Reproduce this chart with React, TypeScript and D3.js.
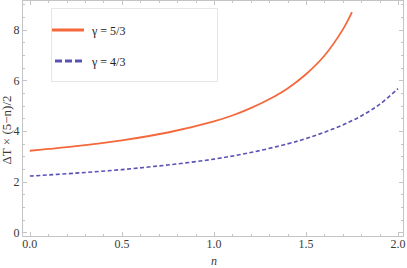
import React, { useEffect, useRef } from 'react';
import * as d3 from 'd3';

// values
const nOrange = [0, 0.1, 0.25, 0.5, 0.75, 1.0, 1.1, 1.2, 1.3, 1.4, 1.5, 1.6, 1.7, 1.75];
const vOrange = [3.22, 3.29, 3.4, 3.63, 3.94, 4.38, 4.61, 4.9, 5.25, 5.68, 6.24, 6.97, 8.0, 8.69];
const nBlue = [0, 0.25, 0.5, 0.75, 1.0, 1.2, 1.4, 1.5, 1.6, 1.7, 1.8, 1.9, 2.0];
const vBlue = [2.22, 2.335, 2.476, 2.66, 2.89, 3.15, 3.49, 3.7, 3.95, 4.24, 4.59, 5.05, 5.67];
const xTicks = [0, 0.5, 1.0, 1.5, 2.0];
const yTicks = [0, 2, 4, 6, 8];
const legendLabels = ['γ = 5/3', 'γ = 4/3'];

const W = 407;
const H = 268;

const App: React.FC = () => {
  const svgRef = useRef<SVGSVGElement>(null);

  useEffect(() => {
    document.body.style.margin = '0';
    if (!svgRef.current) return;
    const svg = d3.select(svgRef.current);
    svg.selectAll('*').remove();

    const frame = { left: 22.5, right: 403.5, top: 0.5, bottom: 236.5 };
    const x = d3.scaleLinear().domain([-0.04, 2.03]).range([frame.left, frame.right]);
    const y = d3.scaleLinear().domain([-0.165, 9.15]).range([frame.bottom, frame.top]);

    const frameColor = '#c4c4c4';
    const textColor = '#3a3a3a';
    const font = "'Liberation Serif', 'DejaVu Serif', 'Times New Roman', serif";

    const g = svg.append('g');

    // frame
    g.append('rect')
      .attr('x', frame.left).attr('y', frame.top)
      .attr('width', frame.right - frame.left)
      .attr('height', frame.bottom - frame.top)
      .attr('fill', 'none').attr('stroke', frameColor).attr('stroke-width', 1);

    // x ticks (major + minor) on bottom and top
    const xMinor = d3.range(0, 2.001, 0.1);
    xMinor.forEach(v => {
      const major = xTicks.some(t => Math.abs(t - v) < 1e-6);
      const len = major ? 4.5 : 2.5;
      const px = Math.round(x(v)) + 0.5;
      g.append('line').attr('x1', px).attr('x2', px)
        .attr('y1', frame.bottom).attr('y2', frame.bottom - len)
        .attr('stroke', frameColor);
      g.append('line').attr('x1', px).attr('x2', px)
        .attr('y1', frame.top).attr('y2', frame.top + len)
        .attr('stroke', frameColor);
    });
    // y ticks
    const yMinor = d3.range(0, 9.01, 0.5);
    yMinor.forEach(v => {
      const major = yTicks.includes(v);
      const len = major ? 4.5 : 2.5;
      const py = Math.round(y(v)) + 0.5;
      g.append('line').attr('x1', frame.left).attr('x2', frame.left + len)
        .attr('y1', py).attr('y2', py).attr('stroke', frameColor);
      g.append('line').attr('x1', frame.right).attr('x2', frame.right - len)
        .attr('y1', py).attr('y2', py).attr('stroke', frameColor);
    });

    // tick labels
    g.selectAll('.xl').data(xTicks).enter().append('text')
      .attr('x', d => x(d)).attr('y', 248)
      .attr('text-anchor', 'middle')
      .style('font-family', font).style('font-size', '12px').attr('fill', textColor)
      .text(d => d.toFixed(1));
    g.selectAll('.yl').data(yTicks).enter().append('text')
      .attr('x', frame.left - 3).attr('y', d => y(d) + 4.5)
      .attr('text-anchor', 'end')
      .style('font-family', font).style('font-size', '12px').attr('fill', textColor)
      .text(d => String(d));

    // axis labels
    g.append('text')
      .attr('x', x(1.0)).attr('y', 265)
      .attr('text-anchor', 'middle')
      .style('font-family', font).style('font-style', 'italic')
      .style('font-size', '12px').attr('fill', textColor)
      .text('n');
    g.append('text')
      .attr('transform', `translate(11,130) rotate(-90)`)
      .attr('text-anchor', 'middle')
      .style('font-family', font).style('font-size', '13px').attr('fill', textColor)
      .text('ΔT × (5−n)/2');

    // curves
    const line = d3.line<[number, number]>()
      .x(d => x(d[0])).y(d => y(d[1]))
      .curve(d3.curveCatmullRom);
    const orange = '#f4683c';
    const blue = '#5b52b6';
    g.append('path')
      .datum(nOrange.map((n, i) => [n, vOrange[i]] as [number, number]))
      .attr('d', line).attr('fill', 'none')
      .attr('stroke', orange).attr('stroke-width', 1.8);
    g.append('path')
      .datum(nBlue.map((n, i) => [n, vBlue[i]] as [number, number]))
      .attr('d', line).attr('fill', 'none')
      .attr('stroke', blue).attr('stroke-width', 1.6)
      .attr('stroke-dasharray', '4,2.5');

    // legend
    const lg = g.append('g');
    lg.append('rect')
      .attr('x', 51.5).attr('y', 8.5).attr('width', 166).attr('height', 73)
      .attr('fill', 'white').attr('stroke', '#e6e6e6');
    const colors = [orange, blue];
    legendLabels.forEach((lab, i) => {
      const ly = 30 + i * 31;
      lg.append('line')
        .attr('x1', i === 0 ? 52 : 55).attr('x2', 84)
        .attr('y1', ly).attr('y2', ly)
        .attr('stroke', colors[i]).attr('stroke-width', 3)
        .attr('stroke-dasharray', i === 0 ? null : '7,3');
      lg.append('text')
        .attr('x', 92).attr('y', ly + 4.5)
        .style('font-family', font).style('font-size', '12px').attr('fill', '#222')
        .text(lab);
    });
  }, []);

  return <svg ref={svgRef} width={W} height={H} style={{ display: 'block' }} />;
};

export default App;
